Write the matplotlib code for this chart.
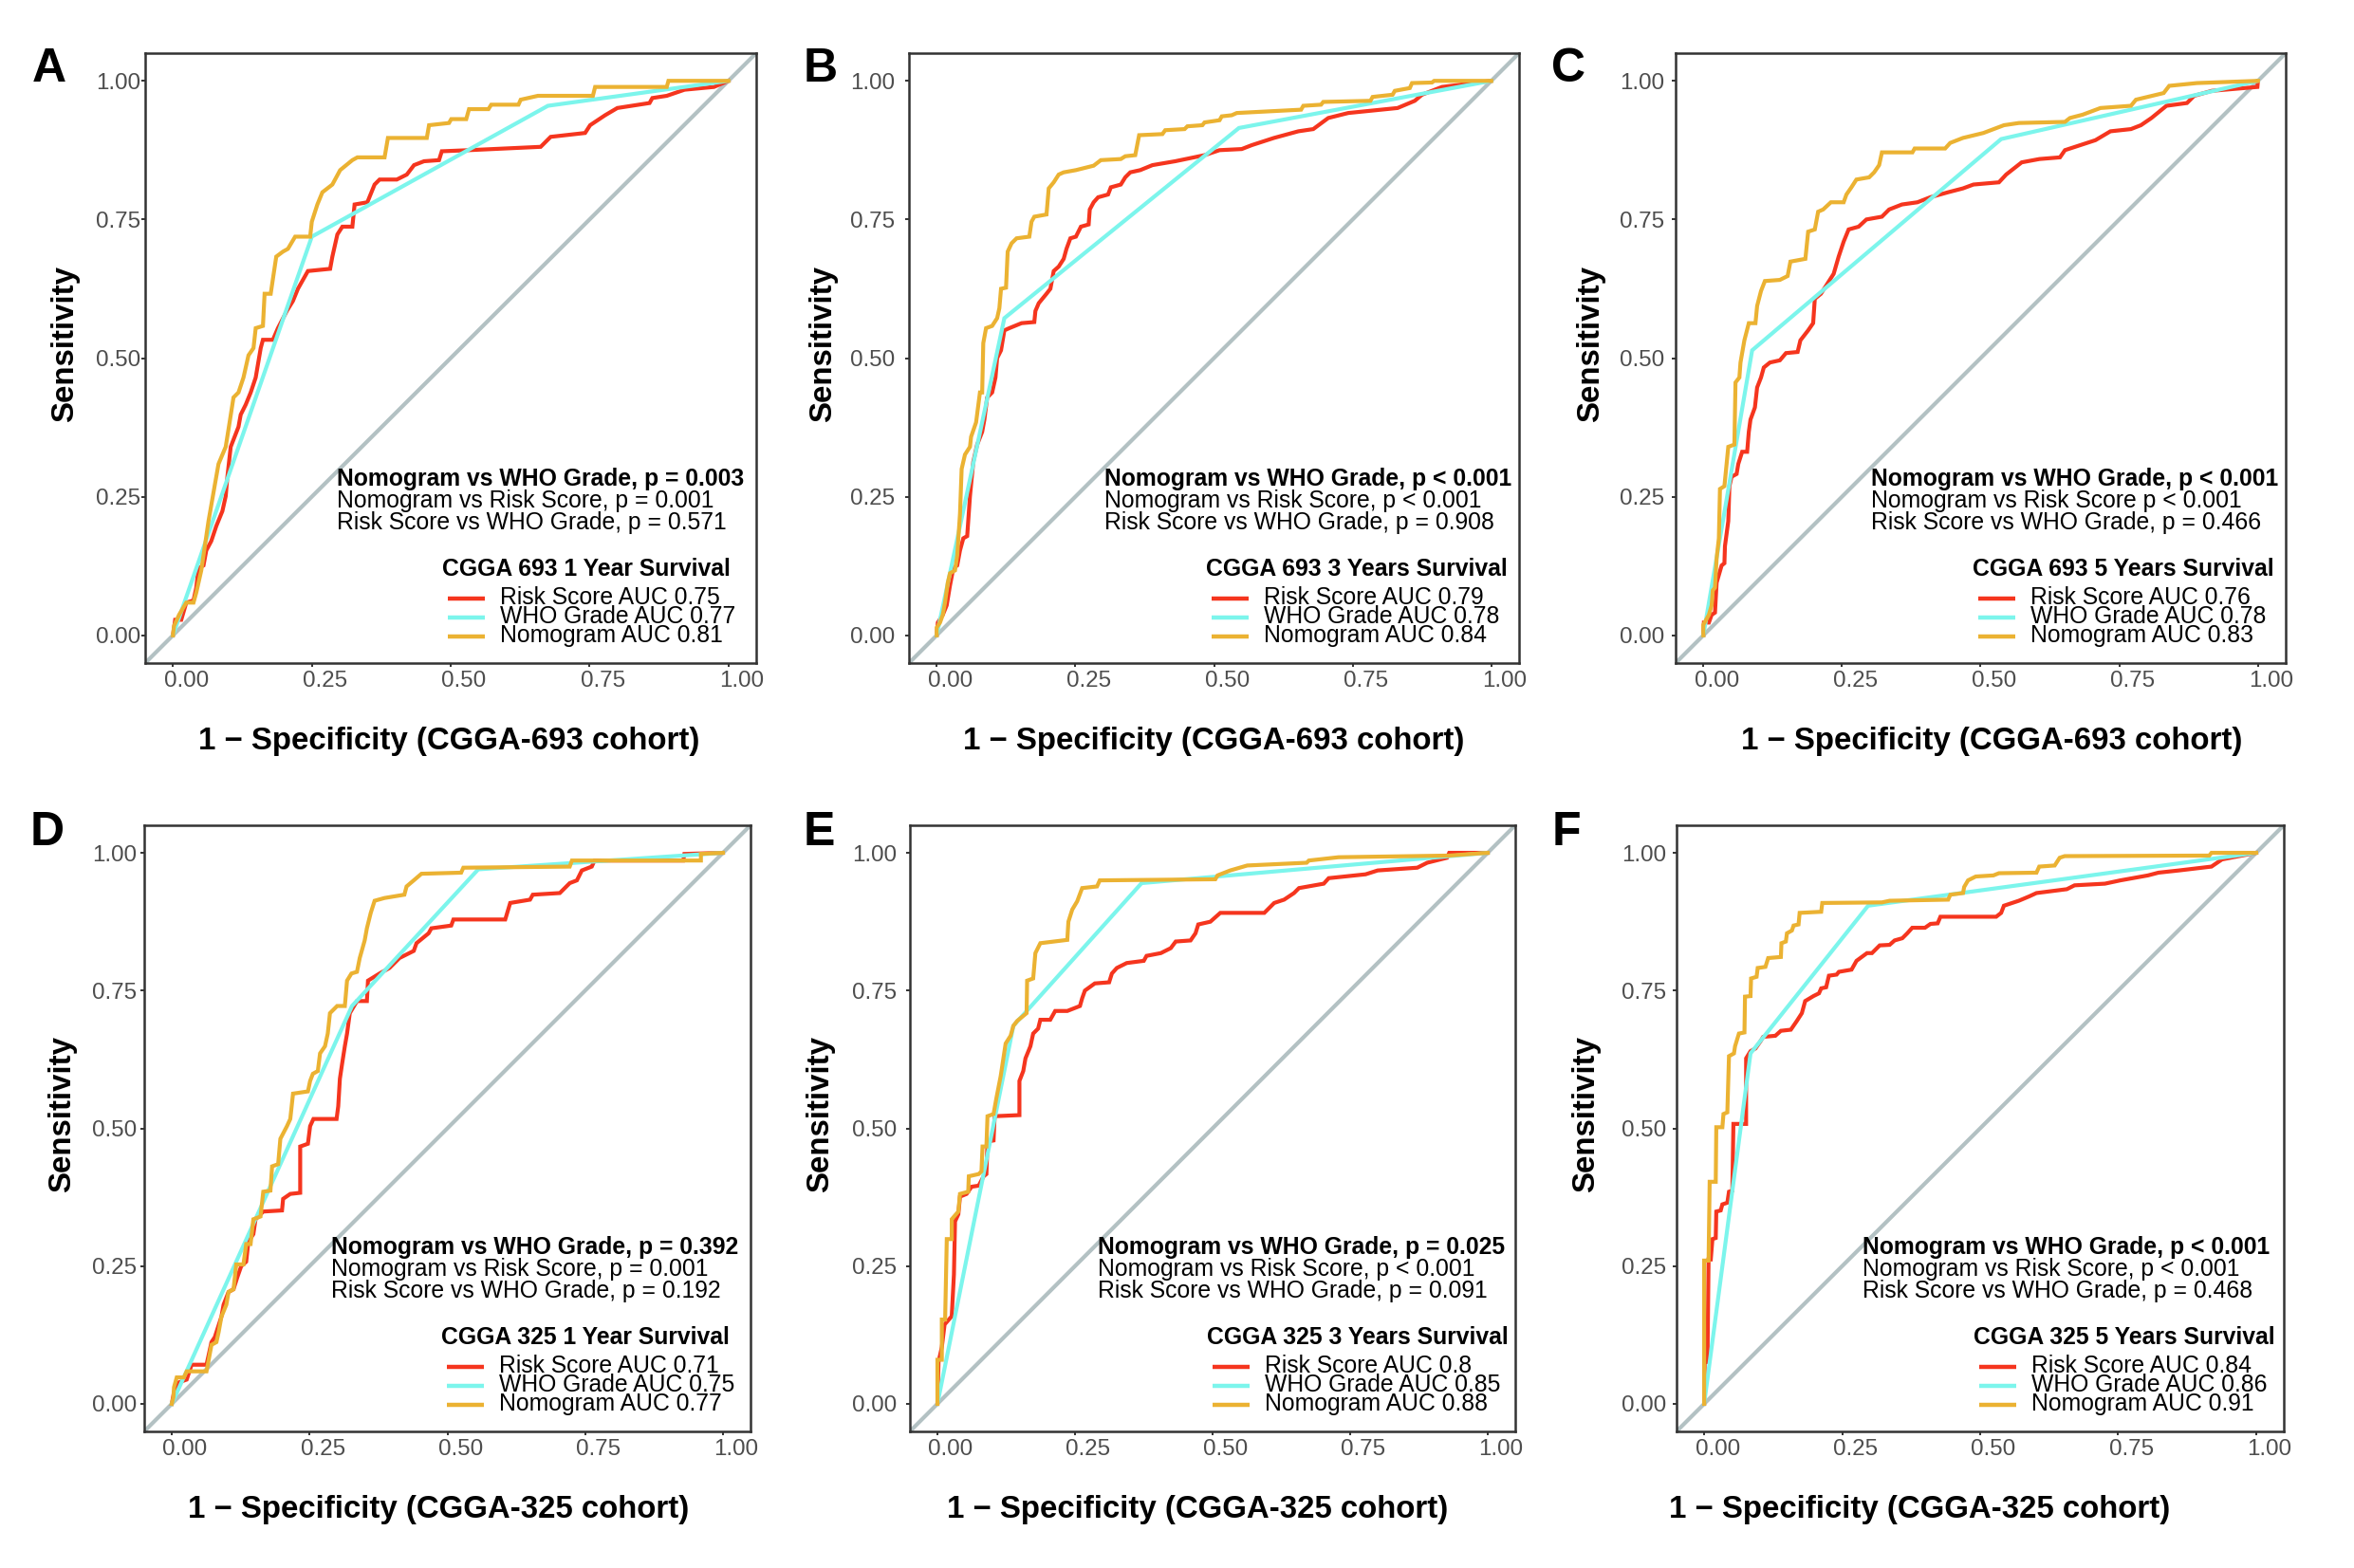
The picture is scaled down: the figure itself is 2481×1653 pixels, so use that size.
import matplotlib
matplotlib.use('Agg')
import matplotlib.pyplot as plt
from matplotlib.transforms import ScaledTranslation

plt.rcParams['font.family'] = ['Liberation Sans', 'DejaVu Sans']

W, H, DPI = 2481, 1653, 100
RED, CYAN, GOLD, DIAG = '#F5351E', '#7CF5EC', '#EBB232', '#B3C1C3'

# ---------------- data: (1 - specificity, sensitivity) ----------------
A_RISK = [(0, 0), (0.004, 0.028), (0.015, 0.028), (0.024, 0.059), (0.037, 0.063), (0.042, 0.086),
          (0.046, 0.121), (0.055, 0.126), (0.060, 0.153), (0.069, 0.170), (0.078, 0.197), (0.089, 0.224),
          (0.095, 0.251), (0.098, 0.286), (0.104, 0.340), (0.118, 0.376), (0.122, 0.398), (0.131, 0.416),
          (0.140, 0.438), (0.149, 0.465), (0.158, 0.518), (0.162, 0.533), (0.180, 0.533), (0.189, 0.554),
          (0.205, 0.585), (0.216, 0.603), (0.225, 0.625), (0.243, 0.657), (0.283, 0.661), (0.287, 0.683),
          (0.296, 0.723), (0.305, 0.737), (0.323, 0.737), (0.327, 0.777), (0.350, 0.781), (0.363, 0.813),
          (0.372, 0.822), (0.403, 0.822), (0.421, 0.831), (0.434, 0.848), (0.452, 0.855), (0.479, 0.857),
          (0.484, 0.873), (0.533, 0.875), (0.662, 0.881), (0.680, 0.899), (0.742, 0.906), (0.751, 0.920),
          (0.778, 0.938), (0.800, 0.951), (0.858, 0.960), (0.863, 0.969), (0.889, 0.973), (0.921, 0.984),
          (0.974, 0.989), (1, 1)]
A_WHO = [(0, 0), (0.250, 0.719), (0.675, 0.955), (1, 1)]
A_NOMO = [(0, 0), (0.002, 0.017), (0.011, 0.037), (0.024, 0.059), (0.037, 0.059), (0.042, 0.077),
          (0.051, 0.117), (0.064, 0.206), (0.075, 0.269), (0.082, 0.309), (0.095, 0.340), (0.102, 0.384),
          (0.109, 0.429), (0.118, 0.438), (0.127, 0.465), (0.136, 0.505), (0.145, 0.518), (0.149, 0.554),
          (0.162, 0.558), (0.165, 0.616), (0.176, 0.616), (0.180, 0.643), (0.186, 0.683), (0.198, 0.692),
          (0.207, 0.697), (0.220, 0.719), (0.247, 0.719), (0.250, 0.746), (0.260, 0.777), (0.269, 0.799),
          (0.287, 0.813), (0.301, 0.839), (0.323, 0.857), (0.332, 0.862), (0.381, 0.862), (0.387, 0.897),
          (0.457, 0.897), (0.461, 0.920), (0.497, 0.924), (0.501, 0.931), (0.528, 0.931), (0.533, 0.949),
          (0.568, 0.949), (0.573, 0.957), (0.622, 0.957), (0.626, 0.966), (0.657, 0.973), (0.756, 0.973),
          (0.760, 0.989), (0.889, 0.989), (0.892, 1.0), (1, 1)]

B_RISK = [(0, 0), (0.002, 0.023), (0.011, 0.037), (0.018, 0.054), (0.024, 0.090), (0.030, 0.121),
          (0.037, 0.126), (0.042, 0.153), (0.048, 0.175), (0.055, 0.179), (0.060, 0.251), (0.066, 0.313),
          (0.073, 0.344), (0.082, 0.367), (0.086, 0.389), (0.091, 0.429), (0.100, 0.438), (0.106, 0.465),
          (0.109, 0.500), (0.116, 0.514), (0.122, 0.550), (0.131, 0.554), (0.153, 0.563), (0.176, 0.565),
          (0.178, 0.585), (0.184, 0.599), (0.198, 0.616), (0.205, 0.625), (0.211, 0.657), (0.220, 0.665),
          (0.229, 0.679), (0.234, 0.697), (0.241, 0.716), (0.251, 0.719), (0.260, 0.737), (0.274, 0.741),
          (0.276, 0.768), (0.283, 0.781), (0.291, 0.790), (0.309, 0.795), (0.314, 0.808), (0.332, 0.813),
          (0.340, 0.826), (0.349, 0.835), (0.367, 0.839), (0.389, 0.848), (0.430, 0.855), (0.483, 0.866),
          (0.510, 0.875), (0.550, 0.877), (0.568, 0.884), (0.608, 0.897), (0.652, 0.909), (0.679, 0.913),
          (0.706, 0.933), (0.742, 0.942), (0.831, 0.951), (0.862, 0.964), (0.875, 0.975), (0.911, 0.989),
          (1, 1)]
B_WHO = [(0, 0), (0.122, 0.572), (0.545, 0.915), (1, 1)]
B_NOMO = [(0, 0), (0, 0.014), (0.006, 0.023), (0.011, 0.037), (0.015, 0.059), (0.020, 0.095),
          (0.024, 0.112), (0.033, 0.117), (0.037, 0.144), (0.042, 0.219), (0.045, 0.300), (0.051, 0.326),
          (0.060, 0.340), (0.062, 0.358), (0.071, 0.384), (0.078, 0.438), (0.082, 0.438), (0.084, 0.527),
          (0.089, 0.554), (0.100, 0.558), (0.109, 0.572), (0.113, 0.590), (0.116, 0.625), (0.125, 0.627),
          (0.128, 0.692), (0.135, 0.707), (0.144, 0.716), (0.167, 0.719), (0.171, 0.746), (0.176, 0.755),
          (0.198, 0.759), (0.202, 0.806), (0.211, 0.817), (0.220, 0.831), (0.229, 0.835), (0.251, 0.839),
          (0.283, 0.847), (0.296, 0.857), (0.332, 0.859), (0.340, 0.864), (0.358, 0.866), (0.365, 0.902),
          (0.407, 0.904), (0.412, 0.911), (0.447, 0.913), (0.452, 0.918), (0.479, 0.920), (0.483, 0.925),
          (0.510, 0.929), (0.514, 0.936), (0.532, 0.938), (0.541, 0.942), (0.657, 0.948), (0.661, 0.955),
          (0.693, 0.957), (0.697, 0.962), (0.782, 0.964), (0.786, 0.971), (0.822, 0.975), (0.826, 0.982),
          (0.853, 0.987), (0.857, 0.996), (0.893, 0.997), (0.897, 1.0), (1, 1)]

C_RISK = [(0, 0), (0.001, 0.023), (0.010, 0.023), (0.015, 0.037), (0.021, 0.041), (0.024, 0.095),
          (0.033, 0.126), (0.038, 0.130), (0.039, 0.161), (0.045, 0.206), (0.047, 0.269), (0.051, 0.286),
          (0.060, 0.291), (0.063, 0.309), (0.070, 0.331), (0.079, 0.331), (0.082, 0.367), (0.085, 0.389),
          (0.093, 0.411), (0.097, 0.447), (0.104, 0.465), (0.109, 0.483), (0.120, 0.492), (0.138, 0.496),
          (0.149, 0.509), (0.170, 0.511), (0.175, 0.532), (0.189, 0.550), (0.198, 0.563), (0.201, 0.607),
          (0.212, 0.616), (0.221, 0.630), (0.235, 0.652), (0.244, 0.683), (0.253, 0.710), (0.262, 0.732),
          (0.280, 0.737), (0.294, 0.750), (0.322, 0.755), (0.335, 0.768), (0.358, 0.777), (0.386, 0.781),
          (0.409, 0.790), (0.441, 0.799), (0.468, 0.806), (0.487, 0.813), (0.533, 0.817), (0.546, 0.831),
          (0.574, 0.853), (0.606, 0.859), (0.643, 0.862), (0.652, 0.875), (0.707, 0.893), (0.734, 0.909),
          (0.771, 0.913), (0.789, 0.920), (0.808, 0.933), (0.835, 0.955), (0.872, 0.960), (0.885, 0.973),
          (0.917, 0.982), (0.999, 0.989), (1, 1)]
C_WHO = [(0, 0), (0.088, 0.514), (0.537, 0.895), (1, 1)]
C_NOMO = [(0, 0), (0, 0.019), (0.010, 0.037), (0.015, 0.054), (0.017, 0.081), (0.021, 0.086),
          (0.024, 0.139), (0.028, 0.175), (0.030, 0.264), (0.038, 0.269), (0.045, 0.340), (0.056, 0.344),
          (0.058, 0.456), (0.065, 0.465), (0.067, 0.492), (0.074, 0.532), (0.082, 0.563), (0.094, 0.563),
          (0.097, 0.594), (0.104, 0.621), (0.111, 0.639), (0.138, 0.641), (0.152, 0.648), (0.157, 0.674),
          (0.184, 0.679), (0.189, 0.728), (0.201, 0.732), (0.207, 0.764), (0.216, 0.768), (0.230, 0.781),
          (0.253, 0.781), (0.258, 0.795), (0.267, 0.808), (0.276, 0.822), (0.299, 0.826), (0.308, 0.835),
          (0.317, 0.848), (0.322, 0.871), (0.377, 0.871), (0.381, 0.878), (0.436, 0.878), (0.445, 0.888),
          (0.468, 0.897), (0.505, 0.906), (0.542, 0.920), (0.569, 0.924), (0.652, 0.926), (0.661, 0.933),
          (0.684, 0.939), (0.716, 0.951), (0.771, 0.955), (0.780, 0.966), (0.830, 0.978), (0.840, 0.991),
          (0.890, 0.996), (1, 1)]

D_RISK = [(0, 0), (0.004, 0.021), (0.013, 0.039), (0.027, 0.044), (0.036, 0.071), (0.063, 0.071),
          (0.067, 0.089), (0.072, 0.112), (0.078, 0.121), (0.090, 0.158), (0.094, 0.180), (0.103, 0.203),
          (0.112, 0.208), (0.119, 0.230), (0.126, 0.250), (0.135, 0.258), (0.139, 0.294), (0.148, 0.308),
          (0.152, 0.335), (0.166, 0.349), (0.200, 0.351), (0.202, 0.372), (0.215, 0.381), (0.233, 0.383),
          (0.233, 0.467), (0.247, 0.472), (0.251, 0.504), (0.257, 0.517), (0.299, 0.517), (0.302, 0.540),
          (0.305, 0.590), (0.309, 0.617), (0.314, 0.649), (0.318, 0.672), (0.323, 0.709), (0.336, 0.731),
          (0.354, 0.731), (0.356, 0.768), (0.377, 0.781), (0.395, 0.791), (0.413, 0.809), (0.439, 0.822),
          (0.444, 0.836), (0.466, 0.854), (0.471, 0.863), (0.507, 0.868), (0.511, 0.879), (0.605, 0.879),
          (0.614, 0.909), (0.650, 0.915), (0.655, 0.924), (0.704, 0.927), (0.722, 0.945), (0.735, 0.950),
          (0.744, 0.968), (0.762, 0.975), (0.767, 0.986), (0.928, 0.986), (0.930, 0.998), (1, 1)]
D_WHO = [(0, 0), (0.327, 0.722), (0.556, 0.970), (1, 1)]
D_NOMO = [(0, 0), (0.003, 0.012), (0.004, 0.030), (0.009, 0.048), (0.022, 0.048), (0.027, 0.059),
          (0.063, 0.059), (0.067, 0.080), (0.072, 0.107), (0.081, 0.112), (0.085, 0.130), (0.090, 0.158),
          (0.099, 0.180), (0.103, 0.203), (0.112, 0.208), (0.117, 0.253), (0.130, 0.253), (0.135, 0.290),
          (0.143, 0.290), (0.148, 0.335), (0.161, 0.340), (0.166, 0.385), (0.179, 0.387), (0.182, 0.431),
          (0.193, 0.435), (0.197, 0.481), (0.209, 0.504), (0.215, 0.517), (0.220, 0.563), (0.247, 0.567),
          (0.251, 0.586), (0.256, 0.599), (0.265, 0.604), (0.269, 0.636), (0.278, 0.649), (0.283, 0.672),
          (0.287, 0.709), (0.300, 0.722), (0.314, 0.722), (0.318, 0.768), (0.326, 0.781), (0.336, 0.784),
          (0.341, 0.809), (0.350, 0.841), (0.354, 0.863), (0.361, 0.891), (0.368, 0.913), (0.386, 0.918),
          (0.422, 0.924), (0.426, 0.939), (0.439, 0.950), (0.453, 0.962), (0.525, 0.964), (0.529, 0.973),
          (0.722, 0.975), (0.726, 0.986), (0.960, 0.986), (0.960, 0.998), (1, 1)]

E_RISK = [(0, 0), (0.002, 0.076), (0.008, 0.103), (0.013, 0.144), (0.026, 0.159), (0.030, 0.235),
          (0.032, 0.331), (0.038, 0.344), (0.041, 0.376), (0.053, 0.381), (0.062, 0.394), (0.075, 0.396),
          (0.084, 0.413), (0.089, 0.417), (0.091, 0.476), (0.102, 0.478), (0.104, 0.522), (0.149, 0.524),
          (0.149, 0.586), (0.156, 0.604), (0.160, 0.627), (0.169, 0.649), (0.174, 0.672), (0.183, 0.681),
          (0.187, 0.697), (0.205, 0.697), (0.214, 0.713), (0.236, 0.713), (0.259, 0.722), (0.263, 0.736),
          (0.268, 0.750), (0.286, 0.763), (0.312, 0.765), (0.317, 0.781), (0.326, 0.791), (0.344, 0.800),
          (0.375, 0.804), (0.380, 0.813), (0.406, 0.818), (0.424, 0.827), (0.433, 0.839), (0.460, 0.841),
          (0.469, 0.854), (0.474, 0.870), (0.496, 0.875), (0.514, 0.891), (0.594, 0.891), (0.612, 0.909),
          (0.630, 0.915), (0.648, 0.927), (0.657, 0.936), (0.702, 0.944), (0.711, 0.954), (0.778, 0.961),
          (0.800, 0.968), (0.872, 0.973), (0.890, 0.982), (0.926, 0.991), (0.930, 1.0), (1, 1)]
E_WHO = [(0, 0), (0.138, 0.686), (0.371, 0.945), (1, 1)]
E_NOMO = [(0, 0), (0, 0.080), (0.008, 0.080), (0.008, 0.153), (0.014, 0.153), (0.017, 0.299),
          (0.026, 0.299), (0.026, 0.335), (0.038, 0.349), (0.041, 0.381), (0.056, 0.385), (0.057, 0.413),
          (0.075, 0.417), (0.080, 0.422), (0.082, 0.467), (0.089, 0.467), (0.091, 0.522), (0.102, 0.526),
          (0.107, 0.554), (0.115, 0.595), (0.124, 0.654), (0.133, 0.668), (0.138, 0.686), (0.145, 0.695),
          (0.162, 0.709), (0.163, 0.768), (0.174, 0.772), (0.178, 0.818), (0.187, 0.836), (0.236, 0.842),
          (0.238, 0.875), (0.245, 0.897), (0.254, 0.912), (0.263, 0.936), (0.290, 0.939), (0.295, 0.950),
          (0.505, 0.952), (0.509, 0.959), (0.532, 0.968), (0.563, 0.977), (0.671, 0.982), (0.675, 0.986),
          (0.729, 0.992), (0.930, 0.995), (1, 1)]

F_RISK = [(0, 0), (0.001, 0.076), (0.006, 0.076), (0.008, 0.262), (0.012, 0.262), (0.015, 0.299),
          (0.021, 0.301), (0.022, 0.349), (0.030, 0.351), (0.033, 0.362), (0.042, 0.365), (0.045, 0.385),
          (0.051, 0.387), (0.053, 0.508), (0.076, 0.508), (0.076, 0.627), (0.084, 0.640), (0.093, 0.645),
          (0.102, 0.658), (0.107, 0.666), (0.129, 0.668), (0.139, 0.677), (0.157, 0.679), (0.168, 0.695),
          (0.177, 0.709), (0.183, 0.731), (0.198, 0.740), (0.208, 0.745), (0.212, 0.754), (0.221, 0.756),
          (0.226, 0.777), (0.240, 0.779), (0.244, 0.784), (0.267, 0.788), (0.276, 0.804), (0.295, 0.818),
          (0.304, 0.818), (0.318, 0.832), (0.336, 0.833), (0.345, 0.841), (0.359, 0.845), (0.368, 0.854),
          (0.377, 0.864), (0.400, 0.864), (0.410, 0.871), (0.423, 0.872), (0.428, 0.884), (0.529, 0.884),
          (0.538, 0.891), (0.543, 0.904), (0.570, 0.913), (0.589, 0.921), (0.602, 0.927), (0.657, 0.934),
          (0.671, 0.941), (0.726, 0.944), (0.754, 0.950), (0.804, 0.959), (0.823, 0.964), (0.860, 0.968),
          (0.919, 0.975), (0.938, 0.988), (1, 1)]
F_WHO = [(0, 0), (0.084, 0.636), (0.297, 0.904), (1, 1)]
F_NOMO = [(0, 0), (0, 0.260), (0.008, 0.260), (0.010, 0.403), (0.021, 0.403), (0.022, 0.502),
          (0.033, 0.502), (0.035, 0.526), (0.042, 0.529), (0.045, 0.631), (0.054, 0.636), (0.056, 0.649),
          (0.063, 0.672), (0.073, 0.674), (0.074, 0.739), (0.084, 0.740), (0.085, 0.772), (0.095, 0.775),
          (0.097, 0.791), (0.111, 0.793), (0.116, 0.809), (0.139, 0.811), (0.140, 0.836), (0.148, 0.839),
          (0.150, 0.854), (0.159, 0.859), (0.162, 0.868), (0.171, 0.870), (0.173, 0.891), (0.212, 0.893),
          (0.214, 0.909), (0.322, 0.910), (0.336, 0.913), (0.442, 0.915), (0.446, 0.924), (0.469, 0.927),
          (0.471, 0.938), (0.478, 0.950), (0.492, 0.957), (0.524, 0.959), (0.534, 0.963), (0.602, 0.964),
          (0.607, 0.975), (0.635, 0.977), (0.644, 0.991), (0.653, 0.994), (0.915, 0.995), (0.919, 1.0),
          (1, 1)]

LETTERS = ['A', 'B', 'C', 'D', 'E', 'F']
XLABELS = ['1 \u2212 Specificity (CGGA-693 cohort)'] * 3 + ['1 \u2212 Specificity (CGGA-325 cohort)'] * 3
CMP_LINES = [
    ['Nomogram vs WHO Grade, p = 0.003', 'Nomogram vs Risk Score, p = 0.001', 'Risk Score vs WHO Grade, p = 0.571'],
    ['Nomogram vs WHO Grade, p < 0.001', 'Nomogram vs Risk Score, p < 0.001', 'Risk Score vs WHO Grade, p = 0.908'],
    ['Nomogram vs WHO Grade, p < 0.001', 'Nomogram vs Risk Score p < 0.001', 'Risk Score vs WHO Grade, p = 0.466'],
    ['Nomogram vs WHO Grade, p = 0.392', 'Nomogram vs Risk Score, p = 0.001', 'Risk Score vs WHO Grade, p = 0.192'],
    ['Nomogram vs WHO Grade, p = 0.025', 'Nomogram vs Risk Score, p < 0.001', 'Risk Score vs WHO Grade, p = 0.091'],
    ['Nomogram vs WHO Grade, p < 0.001', 'Nomogram vs Risk Score, p < 0.001', 'Risk Score vs WHO Grade, p = 0.468'],
]
LEG_TITLES = ['CGGA 693 1 Year Survival', 'CGGA 693 3 Years Survival', 'CGGA 693 5 Years Survival',
              'CGGA 325 1 Year Survival', 'CGGA 325 3 Years Survival', 'CGGA 325 5 Years Survival']
AUC_RISK = ['0.75', '0.79', '0.76', '0.71', '0.8', '0.84']
AUC_WHO = ['0.77', '0.78', '0.78', '0.75', '0.85', '0.86']
AUC_NOMO = ['0.81', '0.84', '0.83', '0.77', '0.88', '0.91']
TICKS = [0, 0.25, 0.5, 0.75, 1.0]
TICK_LABELS = ['0.00', '0.25', '0.50', '0.75', '1.00']

CURVES = [(A_RISK, A_WHO, A_NOMO), (B_RISK, B_WHO, B_NOMO), (C_RISK, C_WHO, C_NOMO),
          (D_RISK, D_WHO, D_NOMO), (E_RISK, E_WHO, E_NOMO), (F_RISK, F_WHO, F_NOMO)]

# ---------------- layout (pixels) ----------------
BOXES = [(153, 56, 797, 699), (958, 56, 1601, 699), (1766, 56, 2409, 699),
         (152, 870, 791, 1509), (959, 870, 1597, 1509), (1767, 870, 2407, 1509)]
LETTER_POS = [(34, 86), (847, 86), (1635, 86), (32, 891), (847, 891), (1636, 891)]
YPAD_PX = [1, 11, 8, 4, 9.5, 7]
YLAB_OFF = [69, 75, 74, 71, 79, 80]
XLAB_CX = [0.497, 0.5, 0.518, 0.485, 0.475, 0.40]
TXT_LEFT = [202, 206, 206, 197, 198, 196]

fig = plt.figure(figsize=(W / DPI, H / DPI), dpi=DPI)
px = 72.0 / DPI  # points per pixel

for i in range(6):
    l, t, r, b = BOXES[i]
    aw, ah = r - l, b - t
    ax = fig.add_axes([l / W, 1 - b / H, aw / W, ah / H])
    ax.set_xlim(-0.05, 1.05)
    ax.set_ylim(-0.05, 1.05)
    ax.plot([-0.05, 1.05], [-0.05, 1.05], color=DIAG, lw=3.0, zorder=1)
    for pts, col in zip(CURVES[i], (RED, CYAN, GOLD)):
        xs = [p[0] for p in pts]
        ys = [p[1] for p in pts]
        ax.plot(xs, ys, color=col, lw=3.0, zorder=2, solid_joinstyle='miter')
    for s in ax.spines.values():
        s.set_linewidth(1.8)
        s.set_color('#333333')
    ax.set_xticks(TICKS)
    ax.set_xticklabels(TICK_LABELS)
    ax.set_yticks(TICKS)
    ax.set_yticklabels(TICK_LABELS)
    ax.tick_params(axis='both', direction='out', length=2.9, width=1.4, color='#333333',
                   labelsize=17.4, labelcolor='#4D4D4D')
    ax.tick_params(axis='x', pad=3)
    ax.tick_params(axis='y', pad=YPAD_PX[i] * px)
    off = ScaledTranslation(14 / DPI, 0, fig.dpi_scale_trans)
    for lab in ax.get_xticklabels():
        lab.set_transform(lab.get_transform() + off)

    ax.set_ylabel('Sensitivity', fontsize=23.8, fontweight='bold')
    ax.yaxis.set_label_coords(-YLAB_OFF[i] / aw, 0.523)
    ax.set_xlabel(XLABELS[i], fontsize=23.8, fontweight='bold')
    ax.xaxis.set_label_coords(XLAB_CX[i], -91 / ah)
    ax.xaxis.label.set_va('baseline')

    # comparison text
    tx = TXT_LEFT[i] / aw
    for k, (line, yoff) in enumerate(zip(CMP_LINES[i], (186.7, 164.0, 140.7))):
        ax.text(tx, yoff / ah, line, transform=ax.transAxes, fontsize=17.8,
                fontweight='bold' if k == 0 else 'normal', ha='left', va='baseline', color='black')

    # legend (manual)
    ax.text(313 / aw, 92 / ah, LEG_TITLES[i], transform=ax.transAxes, fontsize=17.8,
            fontweight='bold', ha='left', va='baseline')
    labels = ['Risk Score AUC ' + AUC_RISK[i], 'WHO Grade AUC ' + AUC_WHO[i], 'Nomogram AUC ' + AUC_NOMO[i]]
    for lab, col, ky, ty in zip(labels, (RED, CYAN, GOLD), (68, 48, 28), (62.3, 42.3, 22.3)):
        ax.plot([319 / aw, 358 / aw], [ky / ah, ky / ah], transform=ax.transAxes, color=col,
                lw=3.2, clip_on=False, solid_capstyle='butt')
        ax.text(374 / aw, ty / ah, lab, transform=ax.transAxes, fontsize=17.8,
                ha='left', va='baseline')

    lx, ly = LETTER_POS[i]
    fig.text(lx / W, 1 - ly / H, LETTERS[i], fontsize=36, fontweight='bold', ha='left', va='baseline')

fig.savefig('out.png', dpi=DPI)
